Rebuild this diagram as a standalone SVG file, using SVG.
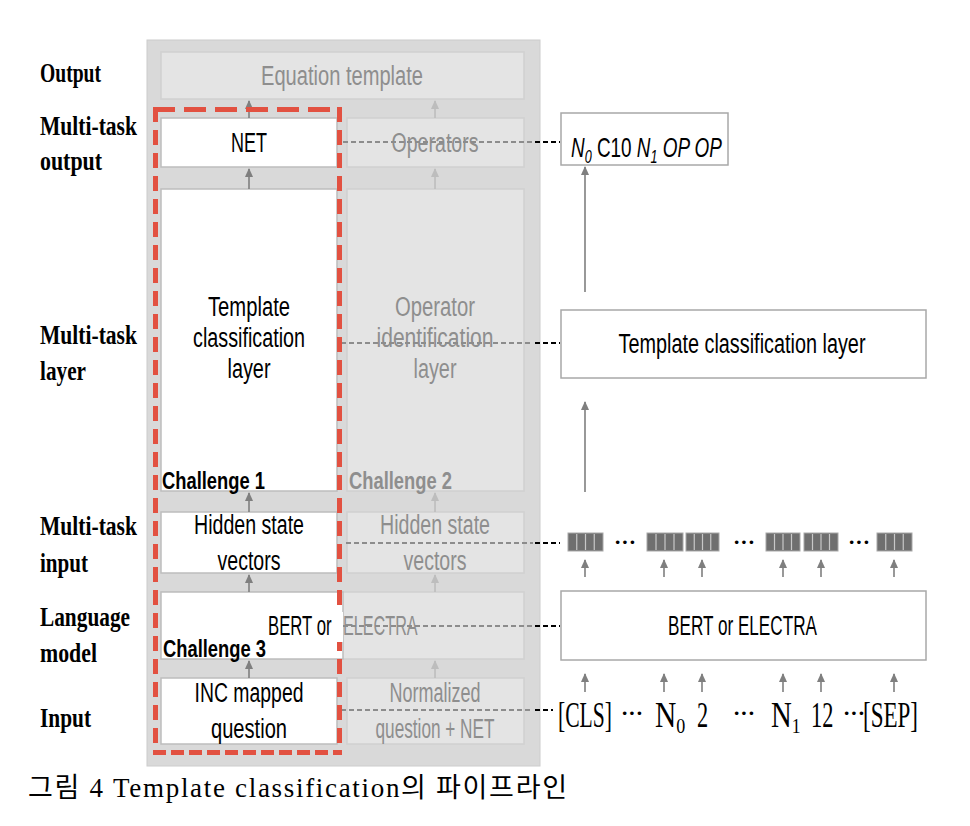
<svg xmlns="http://www.w3.org/2000/svg" width="970" height="826" viewBox="0 0 970 826">
<defs>
<style>
.lbl{font-family:"Liberation Serif",serif;font-weight:bold;font-size:27px;fill:#000}
.bx{font-family:"Liberation Sans",Arial,sans-serif;font-size:27px;text-anchor:middle}
.blk{fill:#000}
.gry{fill:#8e8e8e}
.ch{font-family:"Liberation Sans",Arial,sans-serif;font-weight:bold;font-size:24px}
.tok{font-family:"Liberation Serif",serif;font-size:36px;fill:#000}
.dots{font-family:"Liberation Serif",serif;font-weight:bold;font-size:22px;fill:#000}
.wbox{fill:#fff;stroke:#bdbdbd;stroke-width:1.5}
.gbox{fill:#e4e4e4;stroke:#d0d0d0;stroke-width:1.5}
.rbox{fill:#fff;stroke:#a8a8a8;stroke-width:1.5}
.arr{stroke:#7f7f7f;stroke-width:1.6;fill:none;marker-end:url(#ah)}
.arrl{stroke:#bdbdbd;stroke-width:1.6;fill:none;marker-end:url(#ahl)}
.dg{stroke:#8c8c8c;stroke-width:2;stroke-dasharray:5 3;fill:none}
.dk{stroke:#000;stroke-width:2;stroke-dasharray:5 3;fill:none}
.red{stroke:#e25141;stroke-width:5;fill:none}
.vec{fill:#6f6f6f;stroke:#a8a8a8;stroke-width:1}
.sep{stroke:#c8c8c8;stroke-width:1.2}
</style>
<marker id="ah" markerWidth="10" markerHeight="10" refX="8" refY="5" orient="auto" markerUnits="userSpaceOnUse"><path d="M0,1 L9,5 L0,9 z" fill="#7f7f7f"/></marker>
<marker id="ahl" markerWidth="10" markerHeight="10" refX="8" refY="5" orient="auto" markerUnits="userSpaceOnUse"><path d="M0,1 L9,5 L0,9 z" fill="#bdbdbd"/></marker>
</defs>
<rect width="970" height="826" fill="#fff"/>

<!-- row labels -->
<g id="row-labels">
<text class="lbl" x="40" y="82" textLength="61" lengthAdjust="spacingAndGlyphs">Output</text>
<text class="lbl" x="40" y="135" textLength="97" lengthAdjust="spacingAndGlyphs">Multi-task</text>
<text class="lbl" x="40" y="170" textLength="62" lengthAdjust="spacingAndGlyphs">output</text>
<text class="lbl" x="40" y="344" textLength="97" lengthAdjust="spacingAndGlyphs">Multi-task</text>
<text class="lbl" x="40" y="380" textLength="46" lengthAdjust="spacingAndGlyphs">layer</text>
<text class="lbl" x="40" y="535" textLength="97" lengthAdjust="spacingAndGlyphs">Multi-task</text>
<text class="lbl" x="40" y="572" textLength="48" lengthAdjust="spacingAndGlyphs">input</text>
<text class="lbl" x="40" y="626" textLength="90" lengthAdjust="spacingAndGlyphs">Language</text>
<text class="lbl" x="40" y="662" textLength="57" lengthAdjust="spacingAndGlyphs">model</text>
<text class="lbl" x="40" y="727" textLength="51" lengthAdjust="spacingAndGlyphs">Input</text>
</g>

<!-- central panel -->
<g id="panel">
<rect x="147" y="40" width="393" height="726" fill="#d9d9d9" stroke="#cccccc" stroke-width="1"/>
</g>

<g id="equation-template">
<rect class="gbox" x="161" y="52" width="363" height="47"/>
<text class="bx gry" x="342" y="85" textLength="162" lengthAdjust="spacingAndGlyphs">Equation template</text>
</g>

<g id="net">
<rect class="wbox" x="161" y="118" width="176" height="49"/>
<text class="bx blk" x="249" y="152" textLength="36" lengthAdjust="spacingAndGlyphs">NET</text>
</g>
<g id="operators">
<rect class="gbox" x="347" y="118" width="177" height="49"/>
<text class="bx gry" x="435" y="152" textLength="87" lengthAdjust="spacingAndGlyphs">Operators</text>
</g>

<g id="template-classification">
<rect class="wbox" x="161" y="189" width="176" height="302"/>
<text class="bx blk" x="249" y="316" textLength="82" lengthAdjust="spacingAndGlyphs">Template</text>
<text class="bx blk" x="249" y="347" textLength="112" lengthAdjust="spacingAndGlyphs">classification</text>
<text class="bx blk" x="249" y="378" textLength="43" lengthAdjust="spacingAndGlyphs">layer</text>
<text class="ch blk" x="162" y="489" textLength="103" lengthAdjust="spacingAndGlyphs">Challenge 1</text>
</g>
<g id="operator-identification">
<rect class="gbox" x="347" y="189" width="177" height="302"/>
<text class="bx gry" x="435" y="316" textLength="80" lengthAdjust="spacingAndGlyphs">Operator</text>
<text class="bx gry" x="435" y="347" textLength="117" lengthAdjust="spacingAndGlyphs">identification</text>
<text class="bx gry" x="435" y="378" textLength="43" lengthAdjust="spacingAndGlyphs">layer</text>
<text class="ch gry" x="349" y="489" textLength="103" lengthAdjust="spacingAndGlyphs">Challenge 2</text>
</g>

<g id="hidden-state-left">
<rect class="wbox" x="161" y="512" width="176" height="61"/>
<text class="bx blk" x="249" y="534" textLength="110" lengthAdjust="spacingAndGlyphs">Hidden state</text>
<text class="bx blk" x="249" y="570" textLength="63" lengthAdjust="spacingAndGlyphs">vectors</text>
</g>
<g id="hidden-state-right">
<rect class="gbox" x="347" y="512" width="177" height="61"/>
<text class="bx gry" x="435" y="534" textLength="110" lengthAdjust="spacingAndGlyphs">Hidden state</text>
<text class="bx gry" x="435" y="570" textLength="63" lengthAdjust="spacingAndGlyphs">vectors</text>
</g>

<g id="language-model">
<rect class="gbox" x="161" y="592" width="363" height="67"/>
<rect x="161" y="592" width="182" height="67" fill="#fff" stroke="#bdbdbd" stroke-width="1.5"/>
<text class="blk" transform="translate(268,635) scale(0.62,1)" font-family="'Liberation Sans',Arial,sans-serif" font-size="27">BERT or</text>
<text class="gry" transform="translate(343,635) scale(0.6,1)" font-family="'Liberation Sans',Arial,sans-serif" font-size="27">ELECTRA</text>
<text class="ch blk" x="163" y="657" textLength="103" lengthAdjust="spacingAndGlyphs">Challenge 3</text>
</g>

<g id="inc-question">
<rect class="wbox" x="161" y="678" width="176" height="66"/>
<text class="bx blk" x="249" y="702" textLength="109" lengthAdjust="spacingAndGlyphs">INC mapped</text>
<text class="bx blk" x="249" y="738" textLength="76" lengthAdjust="spacingAndGlyphs">question</text>
</g>
<g id="normalized-question">
<rect class="gbox" x="347" y="678" width="177" height="66"/>
<text class="bx gry" x="435" y="702" textLength="91" lengthAdjust="spacingAndGlyphs">Normalized</text>
<text class="bx gry" x="435" y="738" textLength="119" lengthAdjust="spacingAndGlyphs">question + NET</text>
</g>

<!-- right side -->
<g id="template-output">
<rect class="rbox" x="561" y="113" width="167" height="52"/>
<text transform="translate(571,157) scale(0.7,1)" x="0" y="0" font-family="'Liberation Sans',Arial,sans-serif" font-size="27" fill="#000"><tspan font-style="italic">N</tspan><tspan dy="6" font-size="18" font-style="italic">0</tspan><tspan dy="-6"> C10 </tspan><tspan font-style="italic">N</tspan><tspan dy="6" font-size="18" font-style="italic">1</tspan><tspan dy="-6" font-style="italic"> OP OP</tspan></text>
</g>

<g id="template-classification-right">
<rect class="rbox" x="561" y="310" width="365" height="68"/>
<text class="bx blk" x="742" y="353" textLength="247" lengthAdjust="spacingAndGlyphs">Template classification layer</text>
</g>

<g id="hidden-vectors">
<rect class="vec" x="568" y="533" width="35" height="18"/>
<line class="sep" x1="576.75" y1="534" x2="576.75" y2="550"/><line class="sep" x1="585.5" y1="534" x2="585.5" y2="550"/><line class="sep" x1="594.25" y1="534" x2="594.25" y2="550"/>
<rect class="vec" x="647" y="533" width="36" height="18"/>
<line class="sep" x1="656" y1="534" x2="656" y2="550"/><line class="sep" x1="665" y1="534" x2="665" y2="550"/><line class="sep" x1="674" y1="534" x2="674" y2="550"/>
<rect class="vec" x="686" y="533" width="33" height="18"/>
<line class="sep" x1="694.25" y1="534" x2="694.25" y2="550"/><line class="sep" x1="702.5" y1="534" x2="702.5" y2="550"/><line class="sep" x1="710.75" y1="534" x2="710.75" y2="550"/>
<rect class="vec" x="766" y="533" width="34" height="18"/>
<line class="sep" x1="774.5" y1="534" x2="774.5" y2="550"/><line class="sep" x1="783" y1="534" x2="783" y2="550"/><line class="sep" x1="791.5" y1="534" x2="791.5" y2="550"/>
<rect class="vec" x="804" y="533" width="34" height="18"/>
<line class="sep" x1="812.5" y1="534" x2="812.5" y2="550"/><line class="sep" x1="821" y1="534" x2="821" y2="550"/><line class="sep" x1="829.5" y1="534" x2="829.5" y2="550"/>
<rect class="vec" x="877" y="533" width="35" height="18"/>
<line class="sep" x1="885.75" y1="534" x2="885.75" y2="550"/><line class="sep" x1="894.5" y1="534" x2="894.5" y2="550"/><line class="sep" x1="903.25" y1="534" x2="903.25" y2="550"/>
<text class="dots" x="614" y="549">···</text>
<text class="dots" x="733" y="549">···</text>
<text class="dots" x="848" y="549">···</text>
</g>

<g id="bert-right">
<rect class="rbox" x="561" y="591" width="365" height="69"/>
<text class="bx blk" x="742.5" y="635" textLength="149" lengthAdjust="spacingAndGlyphs">BERT or ELECTRA</text>
</g>

<g id="tokens">
<text class="tok" transform="translate(558,727) scale(0.6,1)">[CLS]</text>
<text class="dots" x="621" y="720">···</text>
<text class="tok" transform="translate(655,727) scale(0.82,1)">N<tspan dy="6" font-size="22">0</tspan></text>
<text class="tok" transform="translate(697,727) scale(0.62,1)">2</text>
<text class="dots" x="733" y="720">···</text>
<text class="tok" transform="translate(771,727) scale(0.8,1)">N<tspan dy="6" font-size="22">1</tspan></text>
<text class="tok" transform="translate(811,727) scale(0.62,1)">12</text>
<text class="dots" x="843" y="720">···</text>
<text class="tok" transform="translate(863,727) scale(0.64,1)">[SEP]</text>
</g>

<!-- connectors -->
<g id="connectors">
<line class="arr" x1="249" y1="118" x2="249" y2="101"/>
<line class="arr" x1="249" y1="189" x2="249" y2="169"/>
<line class="arr" x1="249" y1="512" x2="249" y2="493"/>
<line class="arr" x1="249" y1="592" x2="249" y2="575"/>
<line class="arr" x1="249" y1="678" x2="249" y2="661"/>
<line class="arrl" x1="435" y1="118" x2="435" y2="101"/>
<line class="arrl" x1="435" y1="189" x2="435" y2="169"/>
<line class="arrl" x1="435" y1="512" x2="435" y2="493"/>
<line class="arrl" x1="435" y1="592" x2="435" y2="575"/>
<line class="arrl" x1="435" y1="678" x2="435" y2="661"/>
<line class="arr" x1="585" y1="292" x2="585" y2="167"/>
<line class="arr" x1="585" y1="492" x2="585" y2="402"/>
<line class="arr" x1="585" y1="577" x2="585" y2="560"/>
<line class="arr" x1="664" y1="577" x2="664" y2="560"/>
<line class="arr" x1="702" y1="577" x2="702" y2="560"/>
<line class="arr" x1="783" y1="577" x2="783" y2="560"/>
<line class="arr" x1="821" y1="577" x2="821" y2="560"/>
<line class="arr" x1="894" y1="577" x2="894" y2="560"/>
<line class="arr" x1="585" y1="692" x2="585" y2="674"/>
<line class="arr" x1="664" y1="692" x2="664" y2="674"/>
<line class="arr" x1="702" y1="692" x2="702" y2="674"/>
<line class="arr" x1="783" y1="692" x2="783" y2="674"/>
<line class="arr" x1="821" y1="692" x2="821" y2="674"/>
<line class="arr" x1="894" y1="692" x2="894" y2="674"/>
<line class="dg" x1="343" y1="142" x2="533" y2="142"/><line class="dk" x1="535" y1="142" x2="560" y2="142"/>
<line class="dg" x1="341" y1="343" x2="533" y2="343"/><line class="dk" x1="535" y1="343" x2="560" y2="343"/>
<line class="dg" x1="346" y1="543" x2="533" y2="543"/><line class="dk" x1="535" y1="543" x2="560" y2="543"/>
<line class="dg" x1="343" y1="626" x2="533" y2="626"/><line class="dk" x1="535" y1="626" x2="560" y2="626"/>
<line class="dg" x1="341" y1="710" x2="533" y2="710"/><line class="dk" x1="535" y1="710" x2="553" y2="710"/>
</g>

<!-- red dashed highlight -->
<g id="highlight">
<line class="red" x1="153" y1="109.5" x2="342" y2="109.5" stroke-dasharray="22 9"/>
<line class="red" x1="153" y1="752.5" x2="342" y2="752.5" stroke-dasharray="13 5"/>
<line class="red" x1="155.5" y1="107" x2="155.5" y2="755" stroke-dasharray="15 8"/>
<line class="red" x1="339.5" y1="107" x2="339.5" y2="755" stroke-dasharray="15 8"/>
<rect x="337" y="612" width="6" height="30" fill="#fff"/>
</g>

<text x="28" y="797" font-family="'Liberation Serif','Noto Sans CJK KR',serif" font-size="27" textLength="539" lengthAdjust="spacing">그림 4 Template classification의 파이프라인</text>
</svg>
